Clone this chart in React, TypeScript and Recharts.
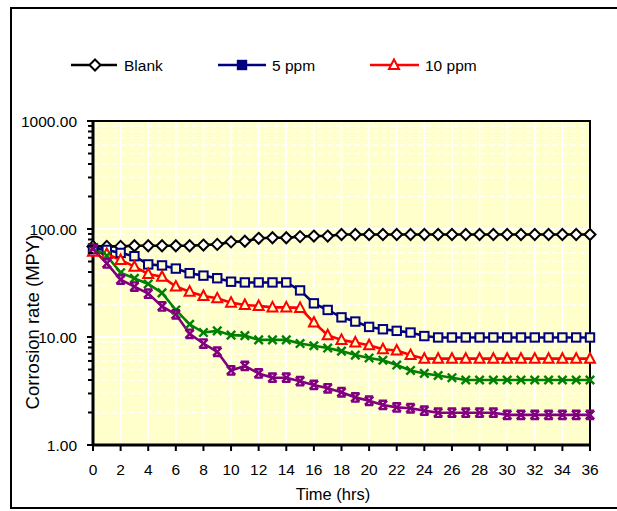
import React from "react";
import {
  CartesianGrid,
  Line,
  LineChart,
  ReferenceArea,
  ReferenceLine,
  XAxis,
  YAxis,
} from "recharts";

const hours = [
  0, 1, 2, 3, 4, 5, 6, 7, 8, 9, 10, 11, 12, 13, 14, 15, 16, 17, 18, 19, 20, 21,
  22, 23, 24, 25, 26, 27, 28, 29, 30, 31, 32, 33, 34, 35, 36,
];

const blank = [
  69, 69, 69, 70, 70, 70, 70, 70, 71, 72, 76, 77, 82, 83, 83, 85, 86, 86, 89,
  89, 89, 89, 89, 89, 89, 89, 89, 89, 89, 89, 89, 89, 89, 89, 89, 89, 89,
];
const ppm5 = [
  66, 64, 60, 56, 47, 46, 43, 39, 37, 35, 32.5, 32, 32, 32, 32, 27, 20.5, 17.8,
  15.2, 13.9, 12.4, 11.8, 11.4, 11, 10.2, 9.9, 9.9, 9.9, 9.9, 9.9, 9.9, 9.9,
  9.9, 9.9, 9.9, 9.9, 9.9,
];
const ppm10 = [
  61.6, 58.7, 51.7, 44.8, 38.3, 36.2, 29.3, 26.3, 24, 22.8, 20.8, 19.8, 19.4,
  18.8, 18.8, 18.6, 13.6, 10.4, 9.4, 8.9, 8.4, 7.7, 7.5, 6.8, 6.3, 6.3, 6.3,
  6.3, 6.3, 6.3, 6.3, 6.3, 6.3, 6.3, 6.3, 6.3, 6.3,
];
const ppm15 = [
  66, 56.6, 39.4, 34.9, 31, 25.6, 17.8, 13.1, 11, 11.4, 10.4, 10.3, 9.4, 9.4,
  9.4, 8.7, 8.3, 7.9, 7.4, 6.8, 6.4, 6.1, 5.5, 4.9, 4.6, 4.4, 4.2, 4, 4, 4, 4,
  4, 4, 4, 4, 4, 4,
];
const ppm20 = [
  65, 48, 34, 29.3, 25.2, 19.2, 16.2, 10.7, 8.7, 7.3, 4.9, 5.4, 4.6, 4.2, 4.2,
  3.9, 3.6, 3.35, 3.08, 2.76, 2.57, 2.35, 2.23, 2.19, 2.08, 1.99, 1.99, 1.99,
  1.99, 1.99, 1.9, 1.9, 1.9, 1.9, 1.9, 1.9, 1.9,
];

const xTicks = [0, 2, 4, 6, 8, 10, 12, 14, 16, 18, 20, 22, 24, 26, 28, 30, 32, 34, 36];
const yMajor = [1, 10, 100, 1000];
const yTicks = [
  1, 2, 3, 4, 5, 6, 7, 8, 9, 10, 20, 30, 40, 50, 60, 70, 80, 90, 100, 200, 300,
  400, 500, 600, 700, 800, 900, 1000,
];

const data = hours.map((h, i) => ({
  h,
  blank: blank[i],
  ppm5: ppm5[i],
  ppm10: ppm10[i],
  ppm15: ppm15[i],
  ppm20: ppm20[i],
}));

const FONT = '"Liberation Sans", Arial, sans-serif';
const BG = "#FFFFCC";

type Shape = "diamond" | "square" | "triangle" | "x" | "star";

const Marker = ({ shape, cx, cy, color, solid }: { shape: Shape; cx: number; cy: number; color: string; solid?: boolean }) => {
  if (shape === "diamond") {
    const s = 5.5;
    return (
      <path
        d={`M${cx},${cy - s}L${cx + s},${cy}L${cx},${cy + s}L${cx - s},${cy}Z`}
        fill="#fff"
        stroke={color}
        strokeWidth={2}
      />
    );
  }
  if (shape === "square") {
    const s = 4.2;
    return (
      <rect x={cx - s} y={cy - s} width={s * 2} height={s * 2} fill={solid ? color : BG} stroke={color} strokeWidth={2} />
    );
  }
  if (shape === "triangle") {
    return (
      <path
        d={`M${cx},${cy - 5.5}L${cx + 5},${cy + 4}L${cx - 5},${cy + 4}Z`}
        fill={solid ? "#fff" : BG}
        stroke={color}
        strokeWidth={2}
      />
    );
  }
  if (shape === "x") {
    const s = 4.2;
    return (
      <path d={`M${cx - s},${cy - s}L${cx + s},${cy + s}M${cx - s},${cy + s}L${cx + s},${cy - s}`} stroke={color} strokeWidth={2.4} />
    );
  }
  // star marker: x with bars top and bottom
  const s = 4.2;
  return (
    <path
      d={`M${cx - s},${cy - s}L${cx + s},${cy + s}M${cx - s},${cy + s}L${cx + s},${cy - s}M${cx - s},${cy - s}L${cx + s},${cy - s}M${cx - s},${cy + s}L${cx + s},${cy + s}`}
      stroke={color}
      strokeWidth={2.4}
    />
  );
};

const series: { key: string; name: string; color: string; shape: Shape; legend: boolean }[] = [
  { key: "blank", name: "Blank", color: "#000000", shape: "diamond", legend: true },
  { key: "ppm5", name: "5 ppm", color: "#000080", shape: "square", legend: true },
  { key: "ppm10", name: "10 ppm", color: "#FF0000", shape: "triangle", legend: true },
  { key: "ppm15", name: "15 ppm", color: "#008000", shape: "x", legend: false },
  { key: "ppm20", name: "20 ppm", color: "#800080", shape: "star", legend: false },
];

const YTick = (props: any) => {
  const { x, y, payload } = props;
  const major = yMajor.includes(payload.value);
  return (
    <g>
      <line x1={x - (major ? 6 : 5)} x2={x} y1={y} y2={y} stroke="#000" strokeWidth={2} />
      {major && (
        <text x={x - 16} y={y} textAnchor="end" dominantBaseline="central" fontSize={15.5} fontFamily={FONT} fill="#000">
          {payload.value.toFixed(2)}
        </text>
      )}
    </g>
  );
};

const legendPos = [
  { x1: 71, x2: 117, mx: 95, tx: 124 },
  { x1: 218, x2: 266, mx: 242, tx: 272 },
  { x1: 370, x2: 419, mx: 394, tx: 425 },
];

const App = () => {
  const legendItems = series.filter((s) => s.legend);
  return (
    <div style={{ position: "absolute", left: 0, top: 0, width: 617, height: 511, overflow: "hidden", background: "#fff" }}>
      <LineChart
        width={617}
        height={511}
        data={data}
        margin={{ top: 121, right: 27, bottom: 36, left: 0 }}
        style={{ outline: "none" }}
      >
        <CartesianGrid fill={BG} horizontal={false} stroke="#fff" strokeWidth={1.5} />
        <CartesianGrid vertical={false} stroke="#fff" strokeWidth={1.5} strokeDasharray="6 3" />
        <ReferenceLine y={10} stroke="#fff" strokeWidth={2} />
        <ReferenceLine y={100} stroke="#fff" strokeWidth={2} />
        <XAxis
          dataKey="h"
          type="number"
          domain={[0, 36]}
          ticks={xTicks}
          interval={0}
          height={30}
          tickSize={6}
          tickMargin={13}
          axisLine={{ stroke: "#000", strokeWidth: 3 }}
          tickLine={{ stroke: "#000", strokeWidth: 2 }}
          tick={{ fill: "#000", fontSize: 15.5, fontFamily: FONT }}
        />
        <YAxis
          type="number"
          scale="log"
          domain={[1, 1000]}
          ticks={yTicks}
          interval={0}
          width={93}
          tickSize={0}
          tickMargin={0}
          allowDataOverflow
          axisLine={{ stroke: "#000", strokeWidth: 3 }}
          tickLine={false}
          tick={<YTick />}
        />
        <ReferenceArea x1={0} x2={36} y1={1} y2={1000} fill="none" fillOpacity={0} stroke="#000" strokeWidth={2} />
        {series.map((s) => (
          <Line
            key={s.key}
            dataKey={s.key}
            name={s.name}
            stroke={s.color}
            strokeWidth={2.6}
            isAnimationActive={false}
            dot={(p: any) => <Marker key={`${s.key}-${p.index}`} shape={s.shape} cx={p.cx} cy={p.cy} color={s.color} />}
            activeDot={false}
          />
        ))}
      </LineChart>
      <svg
        width={617}
        height={511}
        style={{ position: "absolute", left: 0, top: 0, pointerEvents: "none" }}
      >
        <line x1={11} x2={11} y1={7} y2={509} stroke="#000" strokeWidth={2} />
        <line x1={10} x2={617} y1={8} y2={8} stroke="#000" strokeWidth={2} />
        <line x1={10} x2={617} y1={508} y2={508} stroke="#000" strokeWidth={2} />
        {legendItems.map((s, i) => {
          const p = legendPos[i];
          return (
            <g key={s.key}>
              <line x1={p.x1} x2={p.x2} y1={65} y2={65} stroke={s.color} strokeWidth={2.6} />
              <Marker shape={s.shape} cx={p.mx} cy={65} color={s.color} solid />
              <text x={p.tx} y={65} dominantBaseline="central" fontSize={15.5} fontFamily={FONT} fill="#000">
                {s.name}
              </text>
            </g>
          );
        })}
        <text x={333} y={494} textAnchor="middle" dominantBaseline="central" fontSize={16.5} fontFamily={FONT} fill="#000">
          Time (hrs)
        </text>
        <text
          x={32}
          y={322}
          transform="rotate(-90 32 322)"
          textAnchor="middle"
          dominantBaseline="central"
          fontSize={18.5}
          fontFamily={FONT}
          fill="#000"
        >
          Corrosion rate (MPY)
        </text>
      </svg>
    </div>
  );
};

export default App;
